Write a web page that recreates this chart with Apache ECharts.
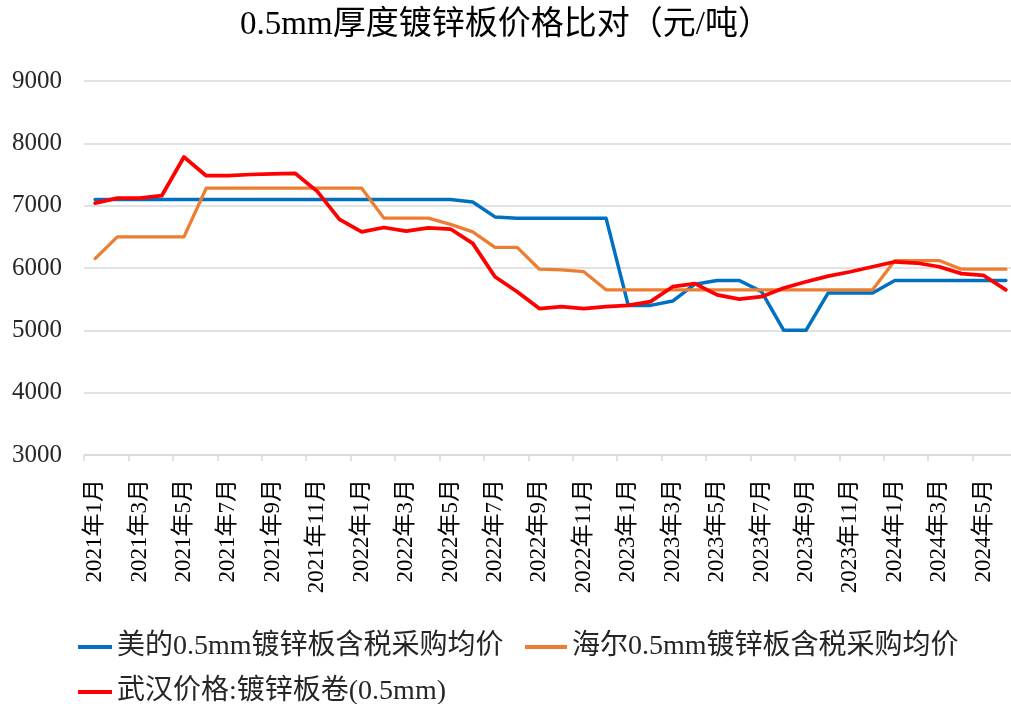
<!DOCTYPE html>
<html>
<head>
<meta charset="utf-8">
<script src="https://cdn.jsdelivr.net/npm/echarts@6/dist/echarts.min.js"></script>
<style>
html,body{margin:0;padding:0;background:#fff;}
#main{width:1011px;height:704px;}
</style>
</head>
<body>
<div id="main"></div>
<script>
const categories = [
 '2021年1月','2021年2月','2021年3月','2021年4月','2021年5月','2021年6月','2021年7月','2021年8月','2021年9月','2021年10月','2021年11月','2021年12月',
 '2022年1月','2022年2月','2022年3月','2022年4月','2022年5月','2022年6月','2022年7月','2022年8月','2022年9月','2022年10月','2022年11月','2022年12月',
 '2023年1月','2023年2月','2023年3月','2023年4月','2023年5月','2023年6月','2023年7月','2023年8月','2023年9月','2023年10月','2023年11月','2023年12月',
 '2024年1月','2024年2月','2024年3月','2024年4月','2024年5月','2024年6月'
];
const seriesNames = ['美的0.5mm镀锌板含税采购均价','海尔0.5mm镀锌板含税采购均价','武汉价格:镀锌板卷(0.5mm)'];
const midea = [7100,7100,7100,7100,7100,7100,7100,7100,7100,7100,7100,7100,7100,7100,7100,7100,7100,7060,6820,6800,6800,6800,6800,6800,
 5400,5400,5470,5740,5800,5800,5620,5000,5000,5600,5600,5600,5800,5800,5800,5800,5800,5800];
const haier = [6150,6500,6500,6500,6500,7280,7280,7280,7280,7280,7280,7280,7280,6800,6800,6800,6700,6580,6330,6330,5980,5970,5940,
 5650,5650,5650,5650,5650,5650,5650,5650,5650,5650,5650,5650,5650,6120,6120,6120,5980,5980,5980];
const wuhan = [7040,7120,7120,7160,7780,7480,7480,7500,7510,7520,7230,6780,6580,6650,6590,6645,6625,6395,5860,5620,
 5350,5380,5350,5380,5400,5460,5700,5750,5570,5500,5540,5680,5780,5870,5940,6020,6100,6080,6020,5910,5880,5650];
const yTicks = {min:3000, max:9000, interval:1000};
const colors = ['#0070C0','#ED7D31','#FF0000'];

const FONT = "'Liberation Serif', 'Noto Sans CJK SC', serif";
const chart = echarts.init(document.getElementById('main'), null, {renderer:'canvas'});
const legendText = {fontFamily: FONT, fontSize: 28, color: '#262626'};
chart.setOption({
  animation: false,
  backgroundColor: '#ffffff',
  title: {
    text: '0.5mm厚度镀锌板价格比对（元/吨）',
    left: 'center', top: 4,
    textStyle: {fontFamily: FONT, fontSize: 33, fontWeight: 'normal', color: '#000'}
  },
  legend: [
    {data:[seriesNames[0]], left:73, top:628, icon:'rect', itemWidth:34, itemHeight:4, textStyle:legendText},
    {data:[seriesNames[1]], left:520, top:628, icon:'rect', itemWidth:42, itemHeight:4, textStyle:legendText},
    {data:[seriesNames[2]], left:73, top:673, icon:'rect', itemWidth:34, itemHeight:4, textStyle:legendText}
  ],
  grid: {left:84, top:81, width:933, height:374, containLabel:false, outerBoundsMode:'none'},
  xAxis: {
    type:'category', data: categories, boundaryGap:true,
    axisLine:{show:true, lineStyle:{color:'#d9d9d9', width:1.5}},
    axisTick:{show:true, interval:1, length:6, lineStyle:{color:'#d9d9d9', width:1.5}},
    axisLabel:{interval:1, rotate:90, margin:24, fontFamily:FONT, fontSize:23, color:'#000'},
    splitLine:{show:false}
  },
  yAxis: {
    type:'value', min:yTicks.min, max:yTicks.max, interval:yTicks.interval,
    axisLine:{show:false}, axisTick:{show:false},
    axisLabel:{margin:22, fontFamily:FONT, fontSize:25, color:'#262626', formatter: v => String(v)},
    splitLine:{show:true, lineStyle:{color:'#d9d9d9', width:1.5}}
  },
  series: [
    {name:seriesNames[0], type:'line', data:midea, symbol:'none', color:colors[0], lineStyle:{width:3.5, color:colors[0], join:'round', cap:'round'}},
    {name:seriesNames[1], type:'line', data:haier, symbol:'none', color:colors[1], lineStyle:{width:3.25, color:colors[1], join:'round', cap:'round'}},
    {name:seriesNames[2], type:'line', data:wuhan, symbol:'none', color:colors[2], lineStyle:{width:3.75, color:colors[2], join:'round', cap:'round'}}
  ]
});
</script>
</body>
</html>
